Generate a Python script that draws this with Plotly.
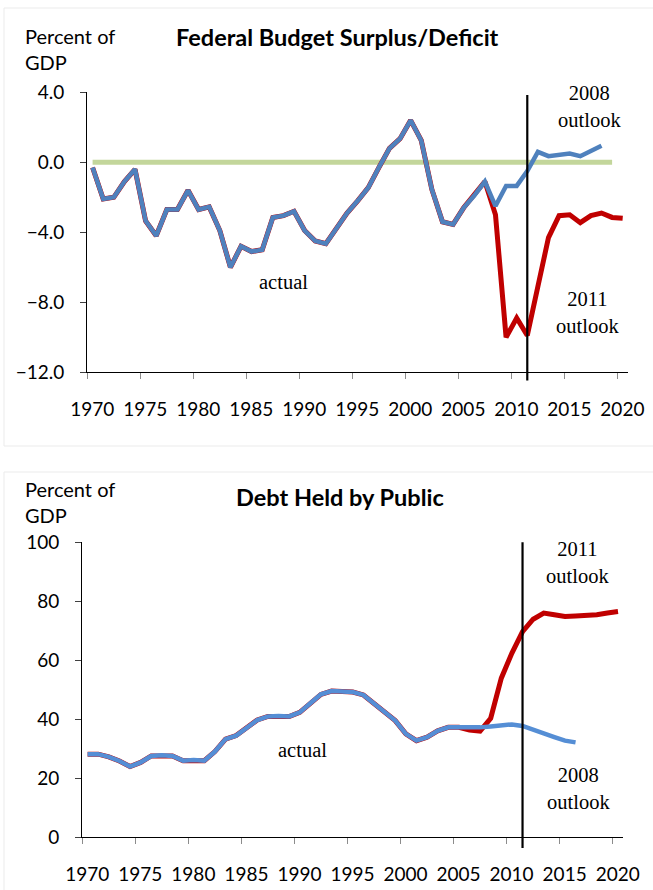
import plotly.graph_objects as go

# ---------------- data ----------------
years_2011 = list(range(1970, 2021))
deficit_2011_outlook = [-0.3, -2.1, -2.0, -1.1, -0.4, -3.35, -4.2, -2.7, -2.7, -1.6,
                        -2.7, -2.55, -3.9, -6.0, -4.8, -5.1, -5.0, -3.15, -3.05, -2.8,
                        -3.9, -4.5, -4.65, -3.8, -2.9, -2.2, -1.45, -0.3, 0.8, 1.35,
                        2.4, 1.25, -1.55, -3.4, -3.55, -2.6, -1.9, -1.1, -3.0, -10.0,
                        -8.9, -9.9, -7.1, -4.3, -3.05, -3.0, -3.45, -3.05, -2.9, -3.15, -3.2]
years_2008_def = list(range(1970, 2019))
deficit_2008_outlook = [-0.3, -2.1, -2.0, -1.1, -0.4, -3.35, -4.2, -2.7, -2.7, -1.6,
                        -2.7, -2.55, -3.9, -6.0, -4.8, -5.1, -5.0, -3.15, -3.05, -2.8,
                        -3.9, -4.5, -4.65, -3.8, -2.9, -2.2, -1.45, -0.3, 0.8, 1.35,
                        2.4, 1.25, -1.55, -3.4, -3.55, -2.6, -1.9, -1.1, -2.5, -1.35,
                        -1.35, -0.5, 0.6, 0.35, 0.45, 0.5, 0.35, 0.65, 0.95]
zero_line_years = [1970, 2019]
zero_line_values = [0, 0]

debt_2011_outlook = [28.1, 28.1, 27.2, 25.8, 23.9, 25.3, 27.5, 27.7, 27.5, 25.9,
                     26.1, 25.9, 29.0, 33.2, 34.4, 36.9, 39.7, 40.9, 41.1, 40.9,
                     42.3, 45.4, 48.4, 49.5, 49.4, 49.2, 48.2, 45.4, 42.6, 39.5,
                     35.0, 32.7, 33.9, 36.0, 37.2, 37.2, 36.3, 35.9, 40.3, 53.9,
                     62.4, 69.7, 73.9, 76.0, 75.4, 74.8, 75.0, 75.1, 75.4, 76.0, 76.5]
years_2008_debt = list(range(1970, 2017))
debt_2008_outlook = [28.1, 28.1, 27.2, 25.8, 23.9, 25.3, 27.5, 27.7, 27.5, 25.9,
                     26.1, 25.9, 29.0, 33.2, 34.4, 36.9, 39.7, 40.9, 41.1, 40.9,
                     42.3, 45.4, 48.4, 49.5, 49.4, 49.2, 48.2, 45.4, 42.6, 39.5,
                     35.0, 32.7, 33.9, 36.0, 37.2, 37.2, 36.9, 37.2, 37.5, 37.8,
                     38.2, 37.7, 36.3, 35.0, 33.9, 32.7, 32.1]

x_tick_labels = ['1970', '1975', '1980', '1985', '1990', '1995',
                 '2000', '2005', '2010', '2015', '2020']
outlook_year = 2011

# ---------------- style ----------------
RED = '#c00000'
BLUE_TOP = '#4f81bd'
BLUE_BOT = '#558ed5'
GREEN = '#c3d69b'
SANS = 'Lato, Arial, sans-serif'
SERIF = 'Liberation Serif, Times New Roman, serif'

W, H = 653, 890

fig = go.Figure()

fig.add_trace(go.Scatter(x=zero_line_years, y=zero_line_values, mode='lines',
                         line=dict(color=GREEN, width=5), xaxis='x', yaxis='y', showlegend=False))
fig.add_trace(go.Scatter(x=years_2011, y=deficit_2011_outlook, mode='lines',
                         line=dict(color=RED, width=5), xaxis='x', yaxis='y', showlegend=False))
fig.add_trace(go.Scatter(x=years_2008_def, y=deficit_2008_outlook, mode='lines',
                         line=dict(color=BLUE_TOP, width=4.5), xaxis='x', yaxis='y', showlegend=False))

fig.add_trace(go.Scatter(x=years_2011, y=debt_2011_outlook, mode='lines',
                         line=dict(color=RED, width=5), xaxis='x2', yaxis='y2', showlegend=False))
fig.add_trace(go.Scatter(x=years_2008_debt, y=debt_2008_outlook, mode='lines',
                         line=dict(color=BLUE_BOT, width=4.5), xaxis='x2', yaxis='y2', showlegend=False))

first, last = years_2011[0], years_2011[-1]
xr = [first - 0.5, last + 0.5]
tickpos = [first - 0.5 + 5 * i for i in range(len(x_tick_labels))]

def px(v):
    return v / W

def py(v):
    return 1 - v / H

xaxis_common = dict(range=xr, tickmode='array', tickvals=tickpos, ticktext=x_tick_labels,
                    ticks='outside', ticklen=6, tickcolor='#8c8c8c', tickwidth=1,
                    ticklabelshift=5, ticklabelstandoff=14, automargin=False,
                    showline=True, linecolor='black', linewidth=1.3,
                    showgrid=False, zeroline=False, fixedrange=True,
                    tickfont=dict(family=SANS, size=19, color='black'))
yaxis_common = dict(ticks='outside', ticklen=6, tickcolor='#404040', tickwidth=1,
                    showline=True, linecolor='black', linewidth=1.3,
                    showgrid=False, zeroline=False, fixedrange=True,
                    ticklabelstandoff=12, automargin=False,
                    tickfont=dict(family=SANS, size=19, color='black'))

fig.update_layout(
    template='none',
    width=W, height=H,
    margin=dict(l=0, r=0, t=0, b=0, autoexpand=False),
    paper_bgcolor='white', plot_bgcolor='rgba(0,0,0,0)',
    xaxis=dict(domain=[px(87.3), px(628)], anchor='y', **xaxis_common),
    yaxis=dict(domain=[py(372.3), py(92.3)], anchor='x', range=[-12, 4],
               tickvals=[-12, -8, -4, 0, 4], tickformat='.1f', **yaxis_common),
    xaxis2=dict(domain=[px(82.3), px(623.3)], anchor='y2', **xaxis_common),
    yaxis2=dict(domain=[py(837), py(542.3)], anchor='x2', range=[0, 100],
                tickvals=[0, 20, 40, 60, 80, 100], **yaxis_common),
    showlegend=False,
)

shapes = [
    # panel borders
    dict(type='rect', xref='paper', yref='paper', x0=px(4), x1=1.05, y0=py(446), y1=py(8),
         line=dict(color='#ebebeb', width=1), fillcolor='rgba(0,0,0,0)', layer='below'),
    dict(type='rect', xref='paper', yref='paper', x0=px(4), x1=1.05, y0=-0.05, y1=py(472),
         line=dict(color='#ebebeb', width=1), fillcolor='rgba(0,0,0,0)', layer='below'),
    # outlook-year vertical markers
    dict(type='line', xref='x', yref='y domain', x0=outlook_year, x1=outlook_year,
         y0=-0.029, y1=0.99, line=dict(color='black', width=2.2)),
    dict(type='line', xref='x2', yref='y2 domain', x0=outlook_year, x1=outlook_year,
         y0=-0.037, y1=1.0, line=dict(color='black', width=2.2)),
]
fig.update_layout(shapes=shapes)

ann = []
def text(x, y, t, xref, yref, font, xanchor='center', yanchor='middle', align='center'):
    ann.append(dict(x=x, y=y, text=t, xref=xref, yref=yref, showarrow=False,
                    xanchor=xanchor, yanchor=yanchor, align=align, font=font))

title_font = dict(family=SANS, size=23.5, color='black', weight='bold')
label_font = dict(family=SANS, size=20, color='black')
serif_font = dict(family=SERIF, size=20.5, color='black')

text(px(337), py(37), 'Federal Budget Surplus/Deficit', 'paper', 'paper', title_font)
text(px(340), py(497), 'Debt Held by Public', 'paper', 'paper', title_font)
text(px(23), py(48.5), 'Percent of<br>GDP', 'paper', 'paper', label_font, xanchor='left', align='left')
text(px(23), py(502), 'Percent of<br>GDP', 'paper', 'paper', label_font, xanchor='left', align='left')

text(1988, -6.84, 'actual', 'x', 'y', serif_font)
text(2016.9, 3.2, '2008<br>outlook', 'x', 'y', serif_font)
text(2016.7, -8.6, '2011<br>outlook', 'x', 'y', serif_font)
text(1990.3, 29.5, 'actual', 'x2', 'y2', serif_font)
text(2016.2, 93.2, '2011<br>outlook', 'x2', 'y2', serif_font)
text(2016.3, 16.4, '2008<br>outlook', 'x2', 'y2', serif_font)
fig.update_layout(annotations=ann)

fig.write_html("out.html", config={'displayModeBar': False},
               post_script="document.body.style.margin='0';document.body.style.overflow='hidden';")
